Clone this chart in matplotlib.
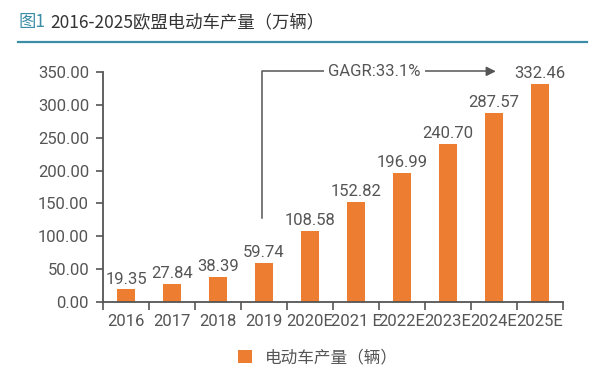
"""2016-2025 EU EV production bar chart."""
import matplotlib
matplotlib.use("Agg")
import matplotlib.pyplot as plt
from matplotlib.lines import Line2D
from matplotlib.patches import Patch
import numpy as np

years = ["2016", "2017", "2018", "2019", "2020E", "2021 E", "2022E", "2023E", "2024E", "2025E"]
output = [19.35, 27.84, 38.39, 59.74, 108.58, 152.82, 196.99, 240.70, 287.57, 332.46]
yticks = [0, 50, 100, 150, 200, 250, 300, 350]

title_tag = "图1"
title_text = "2016-2025欧盟电动车产量（万辆）"
legend_label = "电动车产量（辆）"
cagr_text = "GAGR:33.1%"

ORANGE = "#ED7D31"
GRAY = "#555555"
TEAL = "#3b8ea5"
NUM_FONT = ["Roboto", "DejaVu Sans"]
CJK_FONT = ["Noto Sans CJK SC", "DejaVu Sans"]
NUM_KW = dict(family=NUM_FONT, fontsize=12, color=GRAY)


def main():
    fig = plt.figure(figsize=(5.95, 3.86), dpi=100)
    ax = fig.add_axes([103 / 595, 1 - 302 / 386, 460 / 595, 230 / 386])

    x = np.arange(len(years))
    ax.bar(x, output, width=0.37, color=ORANGE, zorder=2)
    for xi, v in zip(x, output):
        ax.text(xi, v + 4, f"{v:.2f}", ha="center", va="bottom", **NUM_KW)

    ax.set_xlim(-0.5, len(years) - 0.5)
    ax.set_ylim(0, 350)
    ax.set_yticks(yticks)
    ax.set_yticklabels([f"{t:.2f}" for t in yticks], **NUM_KW)
    ax.set_xticks(x)
    ax.set_xticklabels(years, **NUM_KW)
    ax.set_xticks(np.arange(len(years) + 1) - 0.5, minor=True)
    ax.tick_params(axis="x", which="major", length=0, pad=9)
    ax.tick_params(axis="x", which="minor", length=6, width=1.2, color=GRAY)
    ax.tick_params(axis="y", length=5, width=1.2, color=GRAY, pad=5)

    for side in ["top", "right"]:
        ax.spines[side].set_visible(False)
    for side in ["left", "bottom"]:
        ax.spines[side].set_color(GRAY)
        ax.spines[side].set_linewidth(1.3)

    # CAGR bracket arrow
    ax.plot([2.95, 2.95, 7.9], [128, 351, 351], color=GRAY, lw=1.1,
            clip_on=False, zorder=3)
    ax.annotate("", xy=(8.1, 351), xytext=(7.8, 351),
                arrowprops=dict(arrowstyle="-|>", color=GRAY, lw=1.1,
                                mutation_scale=14),
                annotation_clip=False)
    ax.text(5.4, 351, cagr_text, ha="center", va="center", zorder=4,
            bbox=dict(facecolor="white", edgecolor="none", pad=3), **NUM_KW)

    # title + rule
    fig.text(18 / 595, 1 - 22 / 386, title_tag, color=TEAL, fontsize=12.5,
             family=CJK_FONT, va="center", ha="left")
    fig.text(50 / 595, 1 - 22 / 386, title_text, color="#333333", fontsize=12.5,
             family=CJK_FONT, va="center", ha="left")
    fig.add_artist(Line2D([18 / 595, 587 / 595], [1 - 42 / 386] * 2,
                          color=TEAL, lw=1.6))

    handles = [Patch(facecolor=ORANGE, edgecolor="none")]
    fig.legend(handles, [legend_label], loc="center", frameon=False,
               bbox_to_anchor=(318 / 595, 1 - 358 / 386),
               prop={"family": CJK_FONT, "size": 12, "weight": "light"},
               labelcolor=GRAY, handlelength=0.8, handleheight=0.8,
               handletextpad=0.8)

    fig.savefig("out.png", dpi=100)


if __name__ == "__main__":
    main()
